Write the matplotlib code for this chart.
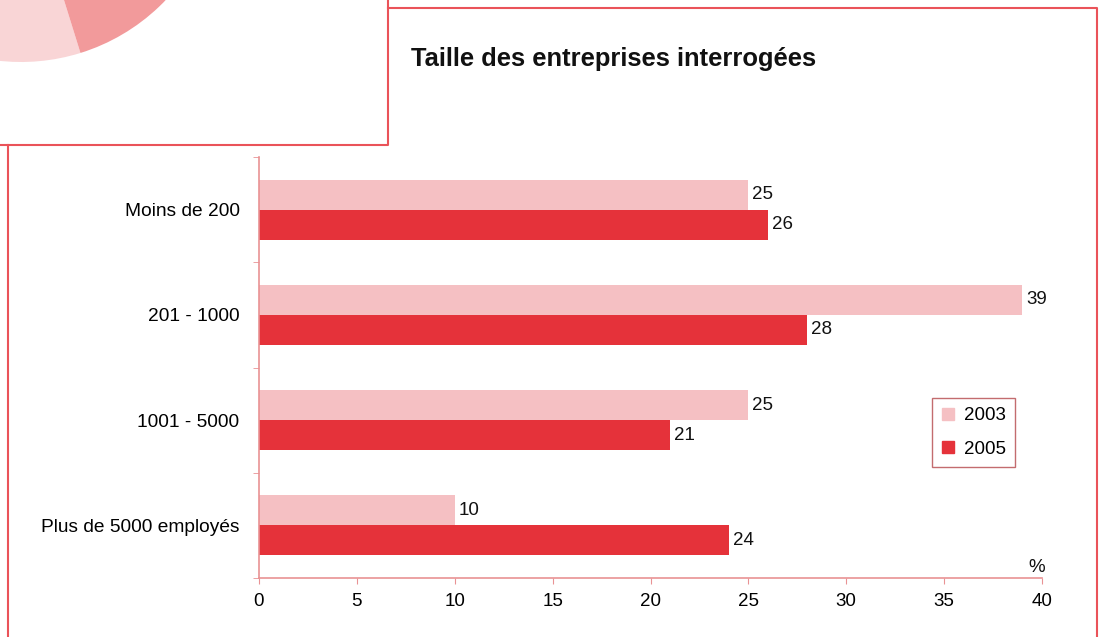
import matplotlib.pyplot as plt
from matplotlib.patches import Wedge
from matplotlib.lines import Line2D

plt.rcParams['font.family'] = ['Liberation Sans', 'DejaVu Sans']

categories = ['Moins de 200', '201 - 1000', '1001 - 5000', 'Plus de 5000 employés']
values_2003 = [25, 39, 25, 10]
values_2005 = [26, 28, 21, 24]
years = ['2003', '2005']

C_2003 = '#f5c0c3'
C_2005 = '#e5323a'
FRAME = '#ea5359'
AXIS = '#e99294'
FS = 13.5

fig = plt.figure(figsize=(11.05, 6.37), dpi=100)

# page background: frames and the corner of the neighbouring pie panel
bg = fig.add_axes([0, 0, 1, 1])
bg.set_xlim(0, 1105)
bg.set_ylim(637, 0)
bg.axis('off')
bg.add_patch(Wedge((21, -138), 200, 72.7, 170, facecolor='#f9d5d6', edgecolor='none'))
bg.add_patch(Wedge((21, -138), 200, 20, 72.7, facecolor='#f29a9b', edgecolor='none'))
bg.plot([0, 388, 388], [145, 145, 0], color=FRAME, lw=1.5)
bg.plot([8, 8], [145, 637], color=FRAME, lw=1.5)
bg.plot([388, 1097, 1097], [8, 8, 637], color=FRAME, lw=1.5)
bg.text(411, 59, 'Taille des entreprises interrogées', fontsize=18.4, fontweight='bold',
        va='center', ha='left', color='#111111')

ax = fig.add_axes([259 / 1105, 1 - 578 / 637, 783 / 1105, 421 / 637])
h = 0.285
n = len(categories)
centers = [n - 0.5 - i for i in range(n)]
y03 = [c + h / 2 for c in centers]
y05 = [c - h / 2 for c in centers]
ax.barh(y03, values_2003, height=h, color=C_2003)
ax.barh(y05, values_2005, height=h, color=C_2005)
for y, v in zip(y03, values_2003):
    ax.text(v + 0.2, y, str(v), va='center', ha='left', fontsize=FS, color='#111111')
for y, v in zip(y05, values_2005):
    ax.text(v + 0.2, y, str(v), va='center', ha='left', fontsize=FS, color='#111111')

ax.set_xlim(0, 40)
ax.set_ylim(0, n)
ax.set_xticks(range(0, 41, 5))
ax.set_yticks(centers)
ax.set_yticklabels(categories)
ax.set_yticks(range(0, n + 1), minor=True)
ax.tick_params(axis='y', which='major', length=0, pad=14, labelsize=13.8)
ax.tick_params(axis='y', which='minor', length=4, color=AXIS, direction='out')
ax.tick_params(axis='x', length=4, color=AXIS, direction='out', pad=7, labelsize=FS)
for s in ['top', 'right']:
    ax.spines[s].set_visible(False)
for s in ['left', 'bottom']:
    ax.spines[s].set_color(AXIS)
    ax.spines[s].set_linewidth(1.2)
ax.text(39.75, 0.1, '%', ha='center', va='center', fontsize=FS, color='#111111')

handles = [Line2D([], [], marker='s', ls='none', markersize=8, color=C_2003),
           Line2D([], [], marker='s', ls='none', markersize=8, color=C_2005)]
leg = ax.legend(handles, years, loc='upper left', bbox_to_anchor=(0.8595, 0.4276),
                fontsize=FS, frameon=True, fancybox=False, handlelength=0.7,
                handletextpad=0.5, borderpad=0.5, labelspacing=0.85, borderaxespad=0)
leg.get_frame().set_edgecolor('#b5474b')
leg.get_frame().set_linewidth(1.0)

fig.savefig('out.png', dpi=100)
